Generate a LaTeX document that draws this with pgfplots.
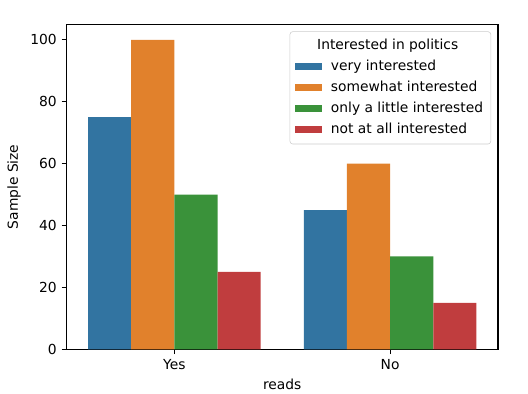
\documentclass[border=0pt]{standalone}
\usepackage{fontspec}
\setmainfont{DejaVu Sans}
\usepackage{pgfplots}
\pgfplotsset{compat=1.18}
\definecolor{sbblue}{HTML}{3274A1}
\definecolor{sborange}{HTML}{E1812C}
\definecolor{sbgreen}{HTML}{3A923A}
\definecolor{sbred}{HTML}{C03D3E}
\begin{document}
\begin{tikzpicture}
\begin{axis}[
  scale only axis,
  width=310.7bp, height=233.9bp,
  xmin=-0.5, xmax=1.5, ymin=0, ymax=105,
  xtick={0,1}, xticklabels={Yes,No},
  ytick={0,20,40,60,80,100},
  tick align=outside, major tick length=3.5bp,
  tick style={black, line width=0.8bp},
  xtick pos=bottom, ytick pos=left,
  axis line style={line width=0.8bp},
  /pgf/number format/assume math mode=true,
  xlabel={reads}, ylabel={Sample Size},
  ybar=0pt, bar width=0.2,
  legend cell align=left,
  legend image code/.code={\fill[#1, sharp corners] (0bp,-2.5bp) rectangle (19.4bp,2.5bp);},
  legend style={at={(1,1)}, anchor=north east, xshift=-5bp, yshift=-5bp,
    draw=black!20, rounded corners=2bp, fill=white,
    inner sep=3.5bp, row sep=1.6bp, column sep=4.6bp,
    nodes={inner sep=2bp, text height=7.5bp, text depth=2bp}},
]
\addlegendimage{empty legend}\addlegendentry{\hspace{-9.9bp}Interested in politics}
\addplot[fill=sbblue, draw=none, bar shift=-0.3] coordinates {(0,75) (1,45)};
\addlegendentry{very interested}
\addplot[fill=sborange, draw=none, bar shift=-0.1] coordinates {(0,100) (1,60)};
\addlegendentry{somewhat interested}
\addplot[fill=sbgreen, draw=none, bar shift=0.1] coordinates {(0,50) (1,30)};
\addlegendentry{only a little interested}
\addplot[fill=sbred, draw=none, bar shift=0.3] coordinates {(0,25) (1,15)};
\addlegendentry{not at all interested}
\coordinate (ll) at (rel axis cs:0,0);
\coordinate (ur) at (rel axis cs:1,1);
\end{axis}
\pgfresetboundingbox
\path[use as bounding box] ([shift={(-47.9bp,-31.5bp)}]ll) rectangle ([shift={(21.6bp,17.6bp)}]ur);
\end{tikzpicture}
\end{document}
